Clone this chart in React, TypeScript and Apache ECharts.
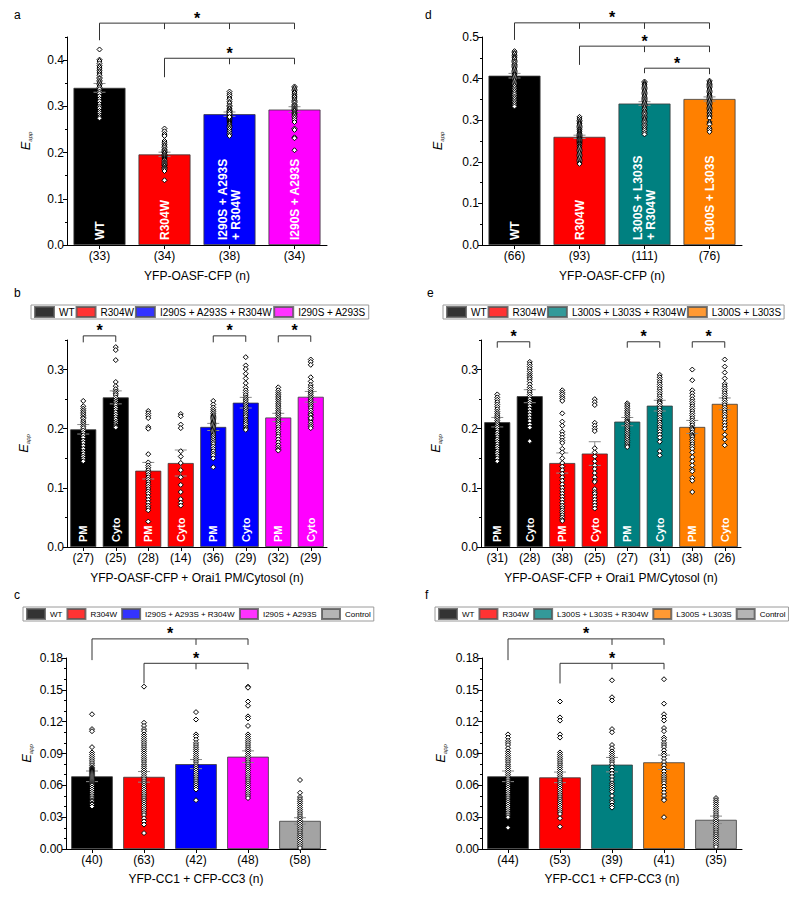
import React, { useEffect, useRef } from 'react';
import * as echarts from 'echarts';

const FONT = "'Liberation Sans', Arial, Helvetica, sans-serif";
const NARROW = "'Liberation Sans Narrow', 'Arial Narrow', 'Liberation Sans', sans-serif";

const BLACK = '#000000';
const RED = '#ff0000';
const BLUE = '#0000ff';
const MAGENTA = '#ff00ff';
const TEAL = '#008080';
const ORANGE = '#ff8000';
const GREY = '#a3a3a3';

// ---------- legend names ----------
const N_WT = 'WT';
const N_R = 'R304W';
const N_IAR = 'I290S + A293S + R304W';
const N_IA = 'I290S + A293S';
const N_LLR = 'L300S + L303S + R304W';
const N_LL = 'L300S + L303S';
const N_CTRL = 'Control';

// ---------- panel a ----------
const A_N = ['(33)', '(34)', '(38)', '(34)'];
const A_MEAN = [0.340, 0.196, 0.283, 0.293];
const A_SEM = [0.0095, 0.0048, 0.0047, 0.0062];
const A_INNER = ['WT', 'R304W', 'I290S + A293S\n+ R304W', 'I290S + A293S'];
const A_WT = [0.423, 0.401, 0.398, 0.393, 0.388, 0.385, 0.381, 0.377, 0.374, 0.370, 0.367, 0.362, 0.360, 0.356, 0.353, 0.350, 0.347, 0.344, 0.341, 0.337, 0.332, 0.328, 0.322, 0.316, 0.311, 0.305, 0.300, 0.296, 0.290, 0.286, 0.281, 0.277, 0.274];
const A_R = [0.252, 0.246, 0.240, 0.236, 0.225, 0.221, 0.217, 0.214, 0.211, 0.207, 0.205, 0.202, 0.200, 0.199, 0.196, 0.194, 0.192, 0.190, 0.188, 0.186, 0.184, 0.183, 0.180, 0.178, 0.176, 0.174, 0.172, 0.171, 0.168, 0.167, 0.165, 0.163, 0.160, 0.140];
const A_IAR = [0.332, 0.327, 0.323, 0.318, 0.315, 0.310, 0.307, 0.302, 0.300, 0.296, 0.294, 0.291, 0.289, 0.286, 0.285, 0.283, 0.281, 0.279, 0.278, 0.276, 0.274, 0.272, 0.270, 0.268, 0.266, 0.264, 0.262, 0.259, 0.257, 0.254, 0.251, 0.247, 0.243, 0.239, 0.236, 0.288, 0.284, 0.277];
const A_IA = [0.343, 0.340, 0.337, 0.334, 0.331, 0.329, 0.325, 0.322, 0.320, 0.316, 0.313, 0.310, 0.308, 0.304, 0.302, 0.300, 0.297, 0.295, 0.293, 0.291, 0.290, 0.287, 0.285, 0.283, 0.281, 0.278, 0.275, 0.271, 0.266, 0.252, 0.249, 0.233, 0.231, 0.205];
const A_TICKS = [0, 0.1, 0.2, 0.3, 0.4];

// ---------- panel d ----------
const D_N = ['(66)', '(93)', '(111)', '(76)'];
const D_MEAN = [0.407, 0.260, 0.340, 0.351];
const D_SEM = [0.0055, 0.004, 0.0045, 0.005];
const D_INNER = ['WT', 'R304W', 'L300S + L303S\n+ R304W', 'L300S + L303S'];
const D_WT = [0.466, 0.462, 0.459, 0.455, 0.452, 0.450, 0.447, 0.443, 0.441, 0.438, 0.434, 0.432, 0.429, 0.426, 0.423, 0.420, 0.417, 0.414, 0.411, 0.409, 0.406, 0.403, 0.400, 0.397, 0.394, 0.391, 0.388, 0.385, 0.382, 0.378, 0.374, 0.370, 0.366, 0.362, 0.357, 0.353, 0.349, 0.345, 0.341, 0.337, 0.333];
const D_R = [0.308, 0.303, 0.299, 0.296, 0.293, 0.291, 0.288, 0.285, 0.282, 0.279, 0.277, 0.274, 0.272, 0.269, 0.267, 0.265, 0.263, 0.261, 0.259, 0.257, 0.255, 0.253, 0.251, 0.249, 0.247, 0.245, 0.243, 0.241, 0.238, 0.236, 0.233, 0.230, 0.227, 0.224, 0.221, 0.218, 0.215, 0.212, 0.209, 0.206, 0.203, 0.200, 0.197, 0.195];
const D_LLR = [0.393, 0.390, 0.387, 0.385, 0.382, 0.379, 0.376, 0.373, 0.370, 0.367, 0.364, 0.361, 0.358, 0.355, 0.352, 0.350, 0.347, 0.344, 0.341, 0.338, 0.335, 0.332, 0.329, 0.326, 0.322, 0.319, 0.316, 0.313, 0.309, 0.306, 0.303, 0.300, 0.297, 0.294, 0.290, 0.287, 0.283, 0.279, 0.275, 0.270, 0.266];
const D_LL = [0.395, 0.392, 0.389, 0.386, 0.384, 0.381, 0.378, 0.375, 0.372, 0.369, 0.366, 0.363, 0.360, 0.358, 0.355, 0.352, 0.349, 0.346, 0.343, 0.340, 0.337, 0.334, 0.331, 0.328, 0.325, 0.322, 0.319, 0.315, 0.312, 0.308, 0.305, 0.296, 0.293, 0.290, 0.281, 0.277, 0.272];
const D_TICKS = [0, 0.1, 0.2, 0.3, 0.4, 0.5];

// ---------- panel b ----------
const B_N = ['(27)', '(25)', '(28)', '(14)', '(36)', '(29)', '(32)', '(29)'];
const B_MEAN = [0.199, 0.253, 0.129, 0.142, 0.203, 0.244, 0.219, 0.254];
const B_SEM = [0.008, 0.011, 0.014, 0.022, 0.006, 0.009, 0.007, 0.009];
const B_INNER = ['PM', 'Cyto', 'PM', 'Cyto', 'PM', 'Cyto', 'PM', 'Cyto'];
const B_P = [
  [0.247, 0.238, 0.234, 0.231, 0.228, 0.225, 0.222, 0.219, 0.217, 0.213, 0.210, 0.207, 0.204, 0.201, 0.197, 0.193, 0.189, 0.185, 0.180, 0.176, 0.171, 0.166, 0.161, 0.157, 0.153, 0.149, 0.145],
  [0.338, 0.333, 0.316, 0.279, 0.272, 0.267, 0.263, 0.260, 0.257, 0.253, 0.249, 0.246, 0.243, 0.240, 0.236, 0.232, 0.228, 0.224, 0.220, 0.216, 0.212, 0.209, 0.206, 0.204, 0.202],
  [0.230, 0.226, 0.222, 0.218, 0.203, 0.200, 0.157, 0.143, 0.138, 0.134, 0.130, 0.126, 0.122, 0.118, 0.114, 0.110, 0.106, 0.102, 0.098, 0.094, 0.090, 0.085, 0.080, 0.075, 0.070, 0.066, 0.062, 0.043],
  [0.225, 0.221, 0.207, 0.201, 0.162, 0.153, 0.142, 0.130, 0.118, 0.105, 0.093, 0.081, 0.075, 0.070],
  [0.247, 0.241, 0.236, 0.232, 0.229, 0.226, 0.223, 0.221, 0.219, 0.217, 0.215, 0.213, 0.211, 0.209, 0.207, 0.205, 0.203, 0.201, 0.199, 0.197, 0.195, 0.193, 0.191, 0.189, 0.186, 0.183, 0.180, 0.177, 0.174, 0.170, 0.166, 0.162, 0.158, 0.155, 0.150, 0.135],
  [0.321, 0.307, 0.301, 0.293, 0.285, 0.277, 0.270, 0.265, 0.261, 0.257, 0.253, 0.250, 0.247, 0.244, 0.241, 0.238, 0.235, 0.232, 0.229, 0.226, 0.223, 0.220, 0.216, 0.213, 0.210, 0.207, 0.203, 0.200, 0.198],
  [0.270, 0.265, 0.261, 0.258, 0.255, 0.252, 0.249, 0.246, 0.243, 0.240, 0.237, 0.234, 0.231, 0.228, 0.225, 0.222, 0.219, 0.216, 0.213, 0.210, 0.207, 0.203, 0.199, 0.195, 0.191, 0.187, 0.182, 0.177, 0.172, 0.168, 0.165, 0.163],
  [0.317, 0.313, 0.308, 0.287, 0.280, 0.274, 0.270, 0.266, 0.262, 0.259, 0.256, 0.253, 0.250, 0.247, 0.244, 0.241, 0.238, 0.235, 0.231, 0.227, 0.224, 0.223, 0.219, 0.215, 0.211, 0.207, 0.204, 0.201, 0.218],
];
const BE_TICKS = [0, 0.1, 0.2, 0.3];

// ---------- panel e ----------
const E_N = ['(31)', '(28)', '(38)', '(25)', '(27)', '(31)', '(38)', '(26)'];
const E_MEAN = [0.211, 0.255, 0.142, 0.158, 0.212, 0.239, 0.203, 0.242];
const E_SEM = [0.008, 0.011, 0.017, 0.020, 0.007, 0.009, 0.011, 0.010];
const E_P = [
  [0.258, 0.253, 0.249, 0.245, 0.241, 0.237, 0.233, 0.229, 0.226, 0.223, 0.220, 0.217, 0.214, 0.211, 0.208, 0.205, 0.202, 0.198, 0.194, 0.190, 0.186, 0.182, 0.178, 0.174, 0.170, 0.166, 0.162, 0.158, 0.154, 0.150, 0.145],
  [0.313, 0.309, 0.305, 0.301, 0.297, 0.293, 0.290, 0.287, 0.284, 0.280, 0.275, 0.270, 0.266, 0.262, 0.258, 0.254, 0.250, 0.246, 0.242, 0.238, 0.233, 0.228, 0.223, 0.218, 0.213, 0.207, 0.202, 0.179],
  [0.265, 0.261, 0.258, 0.254, 0.251, 0.247, 0.226, 0.212, 0.205, 0.195, 0.190, 0.185, 0.180, 0.176, 0.166, 0.160, 0.150, 0.142, 0.136, 0.130, 0.124, 0.118, 0.112, 0.106, 0.100, 0.095, 0.090, 0.085, 0.080, 0.075, 0.070, 0.066, 0.062, 0.058, 0.054, 0.050, 0.046, 0.044],
  [0.250, 0.245, 0.240, 0.210, 0.205, 0.200, 0.196, 0.167, 0.160, 0.153, 0.145, 0.138, 0.132, 0.125, 0.118, 0.112, 0.110, 0.098, 0.093, 0.090, 0.085, 0.080, 0.075, 0.070, 0.065],
  [0.243, 0.240, 0.237, 0.234, 0.231, 0.228, 0.225, 0.222, 0.219, 0.216, 0.213, 0.212, 0.210, 0.207, 0.204, 0.201, 0.198, 0.195, 0.192, 0.189, 0.186, 0.183, 0.180, 0.177, 0.174, 0.171, 0.169],
  [0.291, 0.287, 0.283, 0.279, 0.275, 0.271, 0.267, 0.263, 0.259, 0.255, 0.251, 0.247, 0.245, 0.243, 0.239, 0.235, 0.231, 0.227, 0.223, 0.219, 0.215, 0.211, 0.207, 0.203, 0.199, 0.195, 0.190, 0.185, 0.178, 0.162, 0.155],
  [0.300, 0.282, 0.265, 0.260, 0.255, 0.250, 0.246, 0.242, 0.238, 0.234, 0.230, 0.226, 0.222, 0.218, 0.214, 0.210, 0.206, 0.202, 0.200, 0.198, 0.194, 0.190, 0.188, 0.186, 0.182, 0.178, 0.174, 0.170, 0.166, 0.160, 0.152, 0.145, 0.138, 0.131, 0.128, 0.117, 0.112, 0.093],
  [0.317, 0.305, 0.295, 0.285, 0.276, 0.272, 0.268, 0.264, 0.260, 0.256, 0.252, 0.248, 0.244, 0.240, 0.236, 0.232, 0.228, 0.224, 0.220, 0.215, 0.210, 0.205, 0.200, 0.190, 0.182, 0.172],
];

// ---------- panel c ----------
const C_N = ['(40)', '(63)', '(42)', '(48)', '(58)'];
const C_MEAN = [0.0685, 0.068, 0.080, 0.087, 0.0265];
const C_SEM = [0.005, 0.005, 0.0043, 0.0055, 0.003];
const C_P = [
  [0.127, 0.113, 0.111, 0.096, 0.091, 0.089, 0.087, 0.085, 0.083, 0.081, 0.079, 0.077, 0.076, 0.075, 0.074, 0.073, 0.072, 0.071, 0.070, 0.069, 0.068, 0.067, 0.066, 0.065, 0.064, 0.063, 0.062, 0.061, 0.060, 0.058, 0.056, 0.054, 0.052, 0.050, 0.048, 0.046, 0.045, 0.043, 0.042, 0.040],
  [0.153, 0.119, 0.116, 0.113, 0.111, 0.108, 0.106, 0.104, 0.102, 0.100, 0.098, 0.096, 0.094, 0.092, 0.090, 0.088, 0.086, 0.084, 0.082, 0.080, 0.078, 0.076, 0.074, 0.072, 0.070, 0.068, 0.066, 0.064, 0.062, 0.060, 0.058, 0.056, 0.054, 0.052, 0.050, 0.048, 0.046, 0.044, 0.042, 0.040, 0.038, 0.036, 0.034, 0.032, 0.029, 0.026, 0.023, 0.015],
  [0.129, 0.122, 0.108, 0.106, 0.103, 0.100, 0.098, 0.096, 0.094, 0.092, 0.090, 0.088, 0.086, 0.084, 0.082, 0.080, 0.078, 0.076, 0.074, 0.072, 0.070, 0.068, 0.066, 0.064, 0.062, 0.060, 0.058, 0.056, 0.046],
  [0.153, 0.152, 0.139, 0.135, 0.125, 0.123, 0.116, 0.108, 0.106, 0.104, 0.102, 0.100, 0.098, 0.096, 0.094, 0.092, 0.090, 0.088, 0.086, 0.084, 0.082, 0.080, 0.078, 0.076, 0.074, 0.072, 0.070, 0.068, 0.066, 0.064, 0.062, 0.060, 0.058, 0.056, 0.054, 0.052, 0.050, 0.048],
  [0.065, 0.053, 0.049, 0.047, 0.045, 0.043, 0.041, 0.039, 0.037, 0.035, 0.033, 0.031, 0.029, 0.027, 0.025, 0.023, 0.021, 0.019, 0.017, 0.015, 0.013, 0.011, 0.009, 0.007, 0.005, 0.003, 0.001],
];
const CF_TICKS = [0, 0.03, 0.06, 0.09, 0.12, 0.15, 0.18];

// ---------- panel f ----------
const F_N = ['(44)', '(53)', '(39)', '(41)', '(35)'];
const F_MEAN = [0.0685, 0.0675, 0.0795, 0.0817, 0.0275];
const F_SEM = [0.005, 0.005, 0.0068, 0.0068, 0.0035];
const F_P = [
  [0.108, 0.105, 0.102, 0.100, 0.098, 0.095, 0.092, 0.090, 0.088, 0.086, 0.084, 0.082, 0.080, 0.078, 0.076, 0.074, 0.072, 0.070, 0.068, 0.066, 0.064, 0.062, 0.060, 0.058, 0.056, 0.054, 0.052, 0.050, 0.048, 0.046, 0.044, 0.042, 0.040, 0.038, 0.036, 0.034, 0.032, 0.030, 0.020],
  [0.139, 0.124, 0.121, 0.108, 0.105, 0.091, 0.089, 0.087, 0.085, 0.083, 0.081, 0.079, 0.077, 0.075, 0.073, 0.071, 0.069, 0.067, 0.065, 0.063, 0.061, 0.059, 0.057, 0.055, 0.053, 0.051, 0.049, 0.047, 0.045, 0.043, 0.041, 0.039, 0.037, 0.035, 0.033, 0.029, 0.021],
  [0.159, 0.143, 0.140, 0.113, 0.110, 0.098, 0.095, 0.092, 0.090, 0.088, 0.086, 0.084, 0.082, 0.080, 0.077, 0.074, 0.071, 0.068, 0.065, 0.062, 0.060, 0.058, 0.056, 0.054, 0.050, 0.046, 0.044, 0.041, 0.039],
  [0.160, 0.137, 0.127, 0.124, 0.121, 0.114, 0.111, 0.105, 0.103, 0.100, 0.098, 0.096, 0.093, 0.090, 0.088, 0.085, 0.082, 0.079, 0.076, 0.073, 0.070, 0.068, 0.066, 0.064, 0.062, 0.059, 0.056, 0.053, 0.050, 0.047, 0.046, 0.030],
  [0.048, 0.046, 0.044, 0.042, 0.040, 0.038, 0.036, 0.034, 0.032, 0.030, 0.028, 0.026, 0.024, 0.022, 0.020, 0.018, 0.016, 0.014, 0.012, 0.010, 0.008, 0.006, 0.004, 0.002],
];

// ---------- panels (layout & styling) ----------
type Bracket = { from: number; to: number; level: number; leftLow: number; mids: number[] };
type Panel = {
  letter: string; letterPos: [number, number];
  grid: { left: number; top: number; width: number; height: number };
  max: number; major: number; minor: number; dec: number; ticks: number[]; nameGap: number; xNameGap: number;
  nLabels: string[]; means: number[]; sems: number[]; colors: string[]; inner: string[]; innerFont: number;
  points: number[][]; xTitle: string; brackets: Bracket[];
};

const PANELS: Panel[] = [
  {
    letter: 'a', letterPos: [14, 9],
    grid: { left: 67, top: 37, width: 260, height: 208 },
    max: 0.45, major: 0.1, minor: 0.05, dec: 1, ticks: A_TICKS, nameGap: 34, xNameGap: 25,
    nLabels: A_N, means: A_MEAN, sems: A_SEM, colors: [BLACK, RED, BLUE, MAGENTA], inner: A_INNER, innerFont: 12,
    points: [A_WT, A_R, A_IAR, A_IA], xTitle: 'YFP-OASF-CFP (n)',
    brackets: [
      { from: 0, to: 3, level: 0.48, leftLow: 0.443, mids: [1, 2] },
      { from: 1, to: 3, level: 0.404, leftLow: 0.363, mids: [2] },
    ],
  },
  {
    letter: 'b', letterPos: [14, 287],
    grid: { left: 67, top: 340, width: 260, height: 207 },
    max: 0.35, major: 0.1, minor: 0.05, dec: 1, ticks: BE_TICKS, nameGap: 36, xNameGap: 25,
    nLabels: B_N, means: B_MEAN, sems: B_SEM,
    colors: [BLACK, BLACK, RED, RED, BLUE, BLUE, MAGENTA, MAGENTA], inner: B_INNER, innerFont: 11,
    points: B_P, xTitle: 'YFP-OASF-CFP + Orai1 PM/Cytosol (n)',
    brackets: [
      { from: 0, to: 1, level: 0.357, leftLow: 0.346, mids: [] },
      { from: 4, to: 5, level: 0.357, leftLow: 0.346, mids: [] },
      { from: 6, to: 7, level: 0.357, leftLow: 0.346, mids: [] },
    ],
  },
  {
    letter: 'c', letterPos: [14, 589],
    grid: { left: 66, top: 658, width: 260, height: 191 },
    max: 0.18, major: 0.03, minor: 0.01, dec: 2, ticks: CF_TICKS, nameGap: 32, xNameGap: 24,
    nLabels: C_N, means: C_MEAN, sems: C_SEM, colors: [BLACK, RED, BLUE, MAGENTA, GREY],
    inner: ['', '', '', '', ''], innerFont: 12,
    points: C_P, xTitle: 'YFP-CC1 + CFP-CC3 (n)',
    brackets: [
      { from: 0, to: 3, level: 0.198, leftLow: 0.178, mids: [2] },
      { from: 1, to: 3, level: 0.175, leftLow: 0.156, mids: [2] },
    ],
  },
  {
    letter: 'd', letterPos: [425, 9],
    grid: { left: 482, top: 37, width: 260, height: 208 },
    max: 0.5, major: 0.1, minor: 0.05, dec: 1, ticks: D_TICKS, nameGap: 37, xNameGap: 25,
    nLabels: D_N, means: D_MEAN, sems: D_SEM, colors: [BLACK, RED, TEAL, ORANGE], inner: D_INNER, innerFont: 12,
    points: [D_WT, D_R, D_LLR, D_LL], xTitle: 'YFP-OASF-CFP (n)',
    brackets: [
      { from: 0, to: 3, level: 0.534, leftLow: 0.493, mids: [1, 2] },
      { from: 1, to: 3, level: 0.478, leftLow: 0.433, mids: [2] },
      { from: 2, to: 3, level: 0.425, leftLow: 0.413, mids: [] },
    ],
  },
  {
    letter: 'e', letterPos: [427, 287],
    grid: { left: 481, top: 340, width: 260, height: 207 },
    max: 0.35, major: 0.1, minor: 0.05, dec: 1, ticks: BE_TICKS, nameGap: 38, xNameGap: 25,
    nLabels: E_N, means: E_MEAN, sems: E_SEM,
    colors: [BLACK, BLACK, RED, RED, TEAL, TEAL, ORANGE, ORANGE], inner: B_INNER, innerFont: 11,
    points: E_P, xTitle: 'YFP-OASF-CFP + Orai1 PM/Cytosol (n)',
    brackets: [
      { from: 0, to: 1, level: 0.347, leftLow: 0.337, mids: [] },
      { from: 4, to: 5, level: 0.347, leftLow: 0.337, mids: [] },
      { from: 6, to: 7, level: 0.347, leftLow: 0.337, mids: [] },
    ],
  },
  {
    letter: 'f', letterPos: [425, 589],
    grid: { left: 482, top: 658, width: 260, height: 191 },
    max: 0.18, major: 0.03, minor: 0.01, dec: 2, ticks: CF_TICKS, nameGap: 34, xNameGap: 24,
    nLabels: F_N, means: F_MEAN, sems: F_SEM, colors: [BLACK, RED, TEAL, ORANGE, GREY],
    inner: ['', '', '', '', ''], innerFont: 12,
    points: F_P, xTitle: 'YFP-CC1 + CFP-CC3 (n)',
    brackets: [
      { from: 0, to: 3, level: 0.198, leftLow: 0.178, mids: [2] },
      { from: 1, to: 3, level: 0.175, leftLow: 0.156, mids: [2] },
    ],
  },
];

const LEGEND_COLORS: Record<string, string> = {
  [N_WT]: BLACK, [N_R]: RED, [N_IAR]: BLUE, [N_IA]: MAGENTA, [N_LLR]: TEAL, [N_LL]: ORANGE, [N_CTRL]: GREY,
};

function buildOption() {
  const grids: any[] = [];
  const xAxes: any[] = [];
  const yAxes: any[] = [];
  const series: any[] = [];

  PANELS.forEach((p, g) => {
    grids.push({ ...p.grid, containLabel: false, outerBoundsMode: 'none' });
    xAxes.push({
      type: 'category', gridIndex: g, data: p.nLabels,
      axisLine: { show: true, lineStyle: { color: '#000', width: 1 } },
      axisTick: { show: true, alignWithLabel: true, length: 4, lineStyle: { color: '#000' } },
      axisLabel: { fontSize: 12, color: '#000', margin: 5, fontFamily: FONT, interval: 0 },
      splitLine: { show: false },
      name: p.xTitle, nameLocation: 'middle', nameGap: p.xNameGap,
      nameTextStyle: { fontSize: 12, color: '#000', fontFamily: FONT },
    });
    const isMajor = (v: number) => Math.abs(v / p.major - Math.round(v / p.major)) < 1e-6;
    yAxes.push({
      type: 'value', gridIndex: g, min: 0, max: p.max, interval: p.major, position: 'left',
      axisLine: { show: true, lineStyle: { color: '#000', width: 1 } },
      axisTick: { show: true, length: 4, lineStyle: { color: '#000' }, customValues: p.ticks },
      axisLabel: {
        fontSize: 12, color: '#000', margin: 3, fontFamily: FONT, customValues: p.ticks,
        formatter: (v: number) => (isMajor(v) ? v.toFixed(p.dec) : ''),
      },
      splitLine: { show: false },
      name: '{e|E}{s|app}', nameLocation: 'middle', nameGap: p.nameGap, nameRotate: 90,
      nameTextStyle: {
        rich: {
          e: { fontSize: 13, fontStyle: 'italic', fontFamily: FONT, color: '#000', lineHeight: 13, padding: [0, 0, 3, 0] },
          s: { fontSize: 6, fontStyle: 'italic', fontFamily: FONT, color: '#333', lineHeight: 7, verticalAlign: 'bottom' },
        },
      },
    });
    yAxes.push({
      type: 'value', gridIndex: g, min: 0, max: p.max, interval: p.minor, position: 'left', offset: 0,
      axisLine: { show: false },
      axisTick: { show: true, length: 2, lineStyle: { color: '#000' } },
      axisLabel: { show: false },
      splitLine: { show: false },
    });

    const yi = 2 * g;
    series.push({
      type: 'bar', xAxisIndex: g, yAxisIndex: yi, barWidth: '80%', z: 2, silent: true,
      data: p.means.map((m, i) => ({ value: m, itemStyle: { color: p.colors[i] } })),
      itemStyle: { borderColor: '#3a3a3a', borderWidth: 0.8 },
      label: {
        show: true, position: 'insideBottom', rotate: 90, align: 'left', verticalAlign: 'middle', distance: 5,
        color: '#fff', fontWeight: 'bold', fontSize: p.innerFont, fontFamily: FONT, lineHeight: p.innerFont + 1,
        formatter: (pr: any) => p.inner[pr.dataIndex],
      },
    });
    series.push({
      type: 'custom', xAxisIndex: g, yAxisIndex: yi, z: 3, silent: true, clip: false,
      data: p.means.map((m, i) => [i, m, p.sems[i]]),
      renderItem: (params: any, api: any) => {
        const x = api.value(0), m = api.value(1), s = api.value(2);
        const t = api.coord([x, m + s]);
        const b = api.coord([x, m - s]);
        const hw = 6;
        const st = { stroke: '#8a8a8a', lineWidth: 1 };
        return {
          type: 'group', children: [
            { type: 'line', shape: { x1: t[0], y1: t[1], x2: b[0], y2: b[1] }, style: st },
            { type: 'line', shape: { x1: t[0] - hw, y1: t[1], x2: t[0] + hw, y2: t[1] }, style: st },
            { type: 'line', shape: { x1: b[0] - hw, y1: b[1], x2: b[0] + hw, y2: b[1] }, style: st },
          ],
        };
      },
    });
    series.push({
      type: 'scatter', xAxisIndex: g, yAxisIndex: yi, z: 4, silent: true,
      symbol: 'diamond', symbolSize: 5,
      itemStyle: { color: '#ffffff', borderColor: '#000', borderWidth: 1, opacity: 1 },
      data: p.points.flatMap((arr, i) => arr.map((v) => [i, v])),
    });
    series.push({
      type: 'custom', xAxisIndex: g, yAxisIndex: yi, z: 5, silent: true, clip: false,
      data: p.brackets.map((b) => [b.from, b.to, b.level, b.leftLow]),
      renderItem: (params: any, api: any) => {
        const br = p.brackets[params.dataIndex];
        const L = api.coord([br.from, br.level]);
        const R = api.coord([br.to, br.level]);
        const LL = api.coord([br.from, br.leftLow]);
        const drop = 6;
        const st = { stroke: '#333', lineWidth: 1, fill: null };
        const children: any[] = [
          { type: 'polyline', shape: { points: [[LL[0], LL[1]], [L[0], L[1]], [R[0], R[1]], [R[0], R[1] + drop]] }, style: st },
        ];
        br.mids.forEach((mi) => {
          const M = api.coord([mi, br.level]);
          children.push({ type: 'line', shape: { x1: M[0], y1: M[1], x2: M[0], y2: M[1] + drop }, style: st });
        });
        children.push({
          type: 'text', x: (L[0] + R[0]) / 2, y: L[1] - 5,
          style: { text: '*', fontSize: 16, fontWeight: 'bold', fontFamily: FONT, fill: '#000', textAlign: 'center', textVerticalAlign: 'middle' },
        });
        return { type: 'group', children };
      },
    });
  });

  // dummy series carrying the legend colours
  Object.keys(LEGEND_COLORS).forEach((name) => {
    series.push({
      type: 'scatter', name, xAxisIndex: 0, yAxisIndex: 0, data: [], silent: true,
      itemStyle: { color: LEGEND_COLORS[name], borderColor: '#555', borderWidth: 0.8 },
    });
  });

  const legendBase = {
    orient: 'horizontal', icon: 'rect', itemWidth: 19, itemHeight: 10, itemGap: 1,
    padding: [1, 3], borderColor: '#9a9a9a', borderWidth: 1, backgroundColor: '#fff',
    selectedMode: false, borderRadius: 0, width: 390,
    textStyle: { fontSize: 10, color: '#000', fontFamily: FONT },
  };
  const legendNarrow = {
    ...legendBase, itemWidth: 18, itemGap: 4,
    textStyle: { fontSize: 8, color: '#000', fontFamily: NARROW },
  };
  const legends = [
    { ...legendBase, data: [N_WT, N_R, N_IAR, N_IA], left: 31, top: 305 },
    { ...legendBase, data: [N_WT, N_R, N_LLR, N_LL], left: 443, top: 305 },
    { ...legendNarrow, data: [N_WT, N_R, N_IAR, N_IA, N_CTRL], left: 23, top: 607 },
    { ...legendNarrow, data: [N_WT, N_R, N_LLR, N_LL, N_CTRL], left: 435, top: 607 },
  ];

  const graphics = PANELS.map((p) => ({
    type: 'text', left: p.letterPos[0], top: p.letterPos[1],
    style: { text: p.letter, fontSize: 12, fontFamily: FONT, fill: '#000' },
  }));

  return {
    animation: false,
    backgroundColor: '#ffffff',
    textStyle: { fontFamily: FONT },
    grid: grids,
    xAxis: xAxes,
    yAxis: yAxes,
    legend: legends,
    graphic: graphics,
    series,
  };
}

export default function App() {
  const ref = useRef<HTMLDivElement>(null);
  useEffect(() => {
    if (!ref.current) return;
    const chart = echarts.init(ref.current, undefined, { renderer: 'svg' });
    chart.setOption(buildOption() as any);
    return () => chart.dispose();
  }, []);
  return (
    <div
      ref={ref}
      style={{ position: 'absolute', left: 0, top: 0, width: 800, height: 897, background: '#fff' }}
    />
  );
}
